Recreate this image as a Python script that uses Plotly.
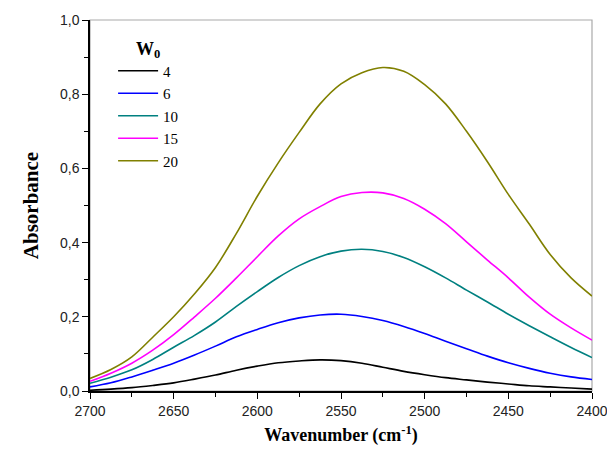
import plotly.graph_objects as go

wavenumber = [2700, 2687.5, 2675, 2662.5, 2650, 2637.5, 2625, 2612.5, 2600, 2587.5, 2575, 2562.5,
              2550, 2537.5, 2525, 2512.5, 2500, 2487.5, 2475, 2462.5, 2450, 2437.5, 2425, 2412.5, 2400]

w4 = [0.002, 0.005, 0.009, 0.015, 0.022, 0.032, 0.043, 0.056, 0.067, 0.076, 0.081, 0.084,
      0.082, 0.075, 0.064, 0.053, 0.044, 0.036, 0.030, 0.024, 0.019, 0.014, 0.011, 0.008, 0.005]
w6 = [0.011, 0.022, 0.038, 0.056, 0.075, 0.097, 0.121, 0.146, 0.166, 0.184, 0.197, 0.205,
      0.207, 0.201, 0.190, 0.174, 0.155, 0.134, 0.114, 0.094, 0.076, 0.061, 0.048, 0.038, 0.031]
w10 = [0.021, 0.037, 0.057, 0.085, 0.118, 0.150, 0.186, 0.228, 0.268, 0.306, 0.338, 0.362,
       0.377, 0.382, 0.376, 0.360, 0.335, 0.305, 0.272, 0.240, 0.207, 0.176, 0.146, 0.117, 0.090]
w15 = [0.026, 0.048, 0.075, 0.110, 0.152, 0.200, 0.250, 0.305, 0.362, 0.418, 0.464, 0.497,
       0.524, 0.535, 0.534, 0.519, 0.490, 0.451, 0.402, 0.353, 0.305, 0.253, 0.207, 0.170, 0.137]
w20 = [0.034, 0.058, 0.092, 0.145, 0.200, 0.262, 0.333, 0.425, 0.525, 0.615, 0.697, 0.774,
       0.828, 0.858, 0.872, 0.862, 0.826, 0.774, 0.700, 0.618, 0.530, 0.450, 0.368, 0.305, 0.256]

series_names = ["4", "6", "10", "15", "20"]
series_values = [w4, w6, w10, w15, w20]
colors = ["#000000", "#0000ff", "#008080", "#ff00ff", "#808000"]

x_tickvals = [2700, 2650, 2600, 2550, 2500, 2450, 2400]
x_minor = [2675, 2625, 2575, 2525, 2475, 2425]
y_tickvals = [0, 0.2, 0.4, 0.6, 0.8, 1.0]
y_ticktext = ["0,0", "0,2", "0,4", "0,6", "0,8", "1,0"]
y_minor = [0.1, 0.3, 0.5, 0.7, 0.9]

fig = go.Figure()
for name, vals, col in zip(series_names, series_values, colors):
    fig.add_trace(go.Scatter(x=wavenumber, y=vals, mode="lines", name=name,
                             line=dict(color=col, width=1.6, shape="spline", smoothing=1.0)))

serif = "Liberation Serif, Times New Roman, serif"
sans = "Liberation Sans, Arial, sans-serif"

fig.update_layout(
    width=607, height=450,
    margin=dict(l=90, r=15, t=20, b=59),
    paper_bgcolor="white", plot_bgcolor="white",
    separators=",.",
    showlegend=True,
    legend=dict(
        x=0.046, y=0.97, xanchor="left", yanchor="top",
        bgcolor="rgba(0,0,0,0)",
        itemwidth=40,
        title=dict(text="<b>W<sub>0</sub></b>", side="top center",
                   font=dict(family=serif, size=18, color="black")),
        font=dict(family=serif, size=15, color="black"),
        tracegroupgap=0,
    ),
    xaxis=dict(
        range=[2700, 2400], tickmode="array", tickvals=x_tickvals,
        ticks="outside", ticklen=6, tickwidth=1.2, tickcolor="black",
        minor=dict(tickvals=x_minor, ticks="outside", ticklen=4, tickcolor="black", tickwidth=1),
        showline=True, linecolor="black", linewidth=1.5, showgrid=False, zeroline=False,
        automargin=False, ticklabeloverflow="allow",
        tickfont=dict(family=sans, size=14, color="#222"),
        title=dict(text="<b>Wavenumber (cm<sup>-1</sup>)</b>",
                   font=dict(family=serif, size=18, color="black"), standoff=11),
    ),
    yaxis=dict(
        range=[0, 1.0], tickmode="array", tickvals=y_tickvals, ticktext=y_ticktext,
        ticks="outside", ticklen=6, tickwidth=1.2, tickcolor="black",
        minor=dict(tickvals=y_minor, ticks="outside", ticklen=4, tickcolor="black", tickwidth=1),
        showline=True, linecolor="black", linewidth=1.5, showgrid=False, zeroline=False,
        automargin=False, ticklabeloverflow="allow",
        tickfont=dict(family=sans, size=14, color="#222"),
        title=dict(text="<b>Absorbance</b>", font=dict(family=serif, size=21, color="black"), standoff=16),
    ),
    shapes=[dict(type="rect", xref="paper", yref="paper", x0=0, y0=0, x1=1, y1=1,
                 line=dict(color="#aaaaaa", width=1.2), layer="between")],
)

fig.write_html("out.html", config={"displayModeBar": False},
               post_script="document.body.style.margin='0';")
